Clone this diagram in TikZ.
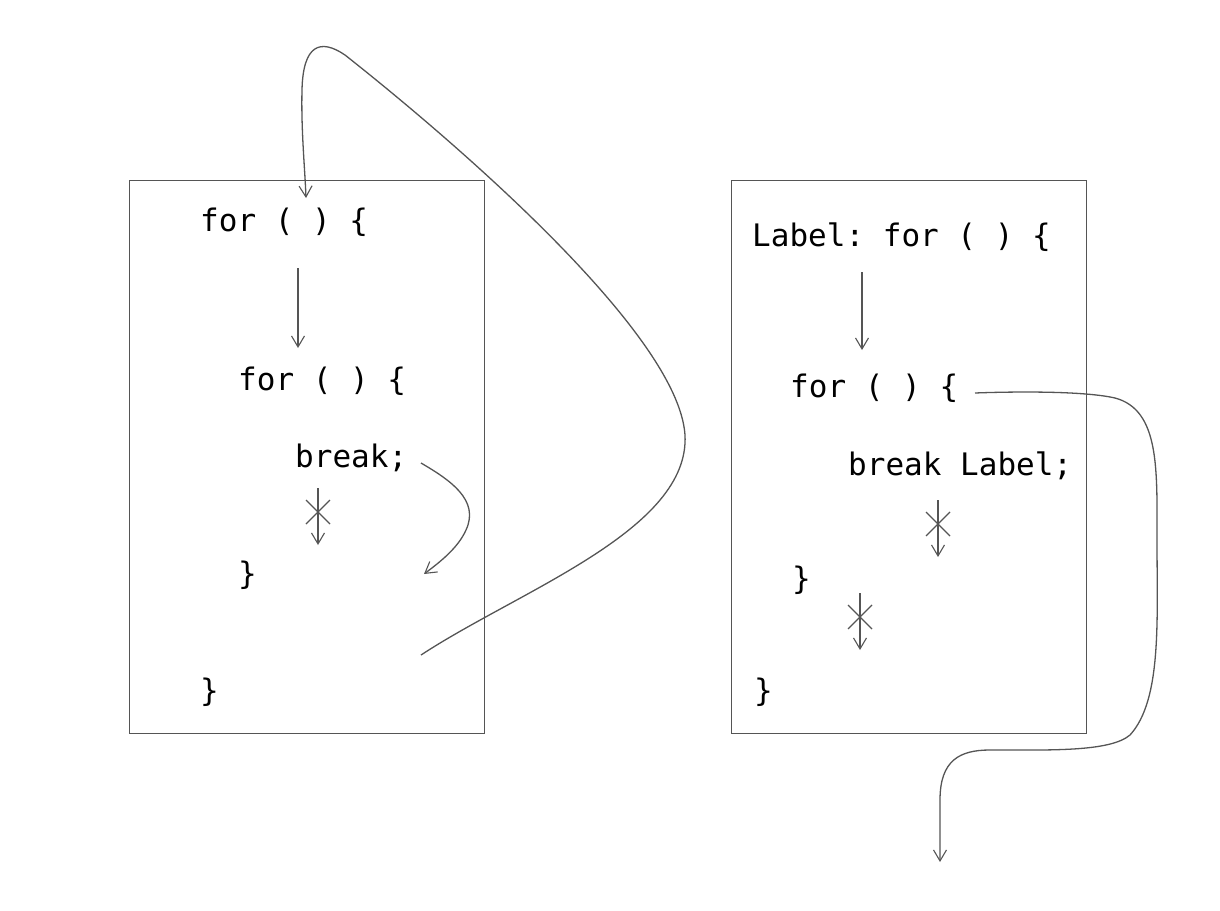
\documentclass[tikz,border=0pt]{standalone}
\usepackage{fontspec}
\setmonofont{DejaVu Sans Mono}
\usetikzlibrary{arrows.meta,calc}
\definecolor{ink}{HTML}{555555}
\tikzset{
  code/.style={anchor=base west, inner sep=0pt, font=\ttfamily\fontsize{31}{32}\selectfont, text=black},
  frame/.style={draw=ink, line width=1.1pt},
  flow/.style={draw=ink, line width=1.3pt, -{Straight Barb[length=11pt,width=13pt,line width=1.1pt]}},
  cross/.style={draw=ink, line width=1.3pt}
}
\begin{document}
\begin{tikzpicture}[x=1pt,y=-1pt]
\useasboundingbox (0,0) rectangle (1220,910);
% boxes
\node[frame, minimum width=355pt, minimum height=553pt, inner sep=0pt, anchor=north west] (boxL) at (129,180) {};
\node[frame, minimum width=355pt, minimum height=553pt, inner sep=0pt, anchor=north west] (boxR) at (731,180) {};
% left code
\node[code] (l1) at (200,231) {for ( ) \{};
\node[code] (l2) at (238,390) {for ( ) \{};
\node[code] (l3) at (295,467) {break;};
\node[code] (l4) at (238,584) {\}};
\node[code] (l5) at (200,701) {\}};
% right code
\node[code] (r1) at (752,246) {Label: for ( ) \{};
\node[code] (r2) at (790,397) {for ( ) \{};
\node[code] (r3) at (848,475) {break Label;};
\node[code] (r4) at (792,589) {\}};
\node[code] (r5) at (754,701) {\}};
% coordinates
\coordinate (a1s) at (298,268); \coordinate (a1e) at (298,348);
\coordinate (b1s) at (318,488); \coordinate (b1e) at (318,545); \coordinate (b1x) at (318,512);
\coordinate (c1s) at (421,463); \coordinate (c1e) at (424,574);
\coordinate (big1) at (421,655); \coordinate (big2) at (306,198);
\coordinate (a2s) at (862,272); \coordinate (a2e) at (862,350);
\coordinate (b2s) at (938,500); \coordinate (b2e) at (938,557); \coordinate (b2x) at (938,524);
\coordinate (b3s) at (860,593); \coordinate (b3e) at (860,650); \coordinate (b3x) at (860,617);
\coordinate (d1s) at (975,393); \coordinate (d1e) at (940,862);
% left arrows
\draw[flow] (a1s) -- (a1e);
\draw[flow] (b1s) -- (b1e);
\draw[cross] ($(b1x)+(-12,-12)$) -- ($(b1x)+(12,12)$) ($(b1x)+(12,-12)$) -- ($(b1x)+(-12,12)$);
\draw[flow] (c1s) .. controls (450,480) and (480,500) .. (466,530) .. controls (458,548) and (440,562) .. (c1e);
\draw[flow] (big1) .. controls (520,590) and (690,530) .. (685,435)
   .. controls (678,330) and (440,130) .. (345,55)
   .. controls (320,38) and (303,45) .. (302,90)
   .. controls (301,130) and (305,170) .. (big2);
% right arrows
\draw[flow] (a2s) -- (a2e);
\draw[flow] (b2s) -- (b2e);
\draw[cross] ($(b2x)+(-12,-12)$) -- ($(b2x)+(12,12)$) ($(b2x)+(12,-12)$) -- ($(b2x)+(-12,12)$);
\draw[flow] (b3s) -- (b3e);
\draw[cross] ($(b3x)+(-12,-12)$) -- ($(b3x)+(12,12)$) ($(b3x)+(12,-12)$) -- ($(b3x)+(-12,12)$);
\draw[flow] (d1s) .. controls (1000,392) and (1080,390) .. (1115,398)
   .. controls (1160,410) and (1157,470) .. (1157,540)
   .. controls (1157,620) and (1162,700) .. (1130,735)
   .. controls (1110,752) and (1050,750) .. (990,750)
   .. controls (960,750) and (940,760) .. (940,800)
   -- (d1e);
\end{tikzpicture}
\end{document}
